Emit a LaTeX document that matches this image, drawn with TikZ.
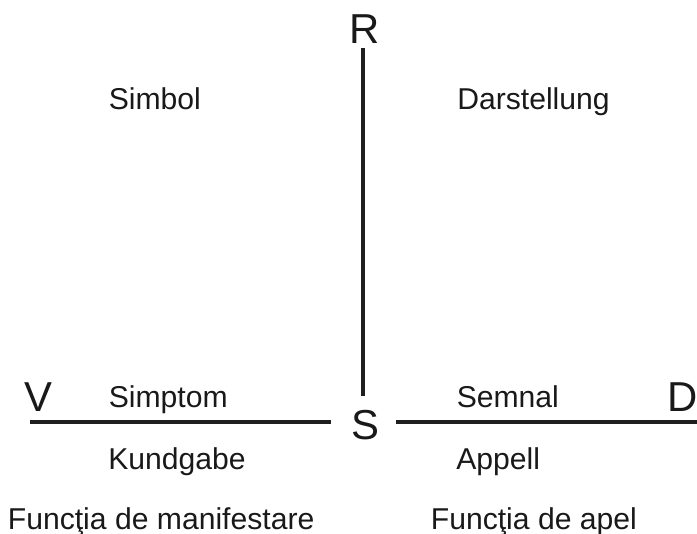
\documentclass[tikz,border=0pt]{standalone}
\usepackage{fontspec}
\setmainfont{Liberation Sans}
\usepackage{tikz}

\begin{document}
\begin{tikzpicture}[
  x=0.75pt, y=-0.75pt,
  every node/.style={inner sep=0pt, text=black!90},
  letter/.style={anchor=base, font=\fontsize{31.4}{36}\selectfont},
  lbl/.style={anchor=base west, font=\fontsize{22.6}{27}\selectfont},
  axis/.style={line width=2.6pt, draw=black!88}
]
  \useasboundingbox (0,0) rectangle (697,534);

  % Corner letters
  \node[letter] (R) at (364.5, 44)  {R};
  \node[letter] (V) at (38, 412)    {V};
  \node[letter] (S) at (365, 440)   {S};
  \node[letter] (D) at (683, 412)   {D};

  % Upper labels
  \node[lbl] (simbol) at (108.5, 109.5) {Simbol};
  \node[lbl] (darst)  at (457, 109.5)   {Darstellung};

  % Labels along the base line
  \node[lbl] (simptom)  at (108.5, 408) {Simptom};
  \node[lbl] (semnal)   at (456.5, 408) {Semnal};
  \node[lbl] (kundgabe) at (108, 470)   {Kundgabe};
  \node[lbl] (appell)   at (456, 470)   {Appell};

  % Functions
  \node[lbl] (fmanif) at (7.6, 530)   {Funcţia de manifestare};
  \node[lbl] (fapel)  at (430.6, 530) {Funcţia de apel};

  % Lines
  \coordinate (top)   at (363, 48);
  \coordinate (mid)   at (363, 396);
  \coordinate (left)  at (30, 422);
  \coordinate (leftEnd)  at (331, 422);
  \coordinate (rightBeg) at (396, 422);
  \coordinate (right) at (697, 422);

  \draw[axis] (top) -- (mid);
  \draw[axis] (left) -- (leftEnd);
  \draw[axis] (rightBeg) -- (right);
\end{tikzpicture}
\end{document}
